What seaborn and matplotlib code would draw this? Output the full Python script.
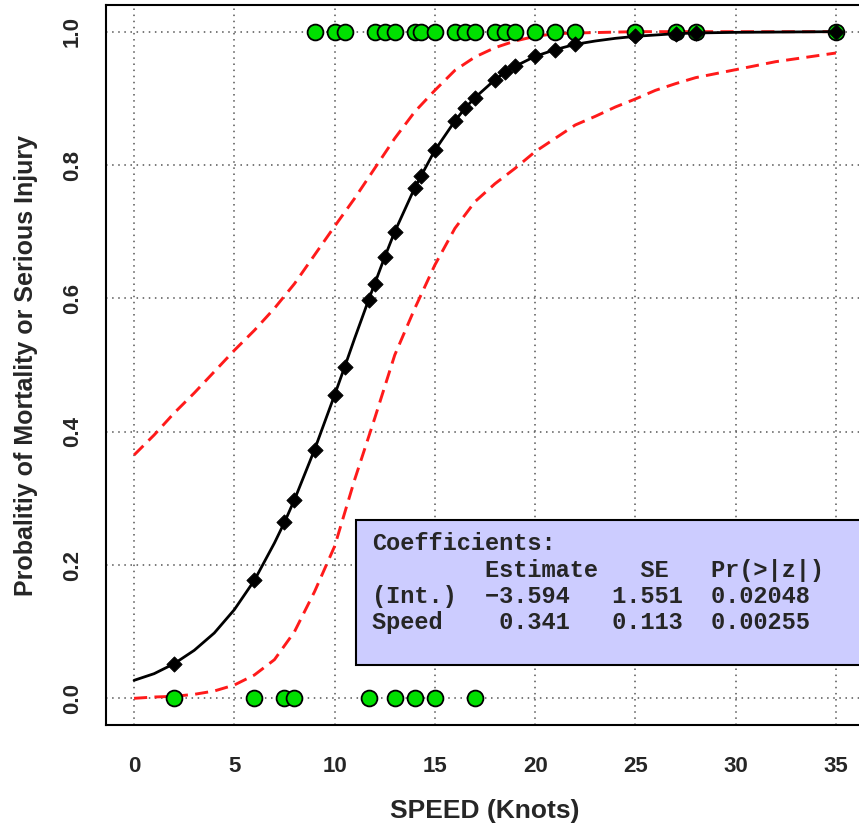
import matplotlib
matplotlib.use("Agg")
import matplotlib.pyplot as plt
import pandas as pd
import seaborn as sns
from matplotlib.patches import Rectangle

# observed strikes: speed (knots) and outcome (1 = mortality / serious injury)
speed_injury = [9, 10, 10.5, 12, 12.5, 13, 14, 14.3, 15, 16, 16.5, 17, 18,
                18.5, 19, 20, 21, 22, 25, 27, 28, 35]
speed_no_injury = [2, 6, 7.5, 8, 11.7, 13, 14, 15, 17]

# fitted logistic curve
fit_speed = [0, 1, 2, 3, 4, 5, 6, 7, 7.5, 8, 9, 10, 10.5, 11, 11.7, 12, 12.5,
             13, 14, 14.3, 15, 16, 16.5, 17, 18, 18.5, 19, 20, 21, 22, 23, 24,
             25, 26, 27, 28, 30, 35]
fit_prob = [0.027, 0.037, 0.052, 0.072, 0.098, 0.133, 0.177, 0.233, 0.264,
            0.298, 0.373, 0.455, 0.497, 0.540, 0.598, 0.622, 0.662, 0.700,
            0.766, 0.783, 0.822, 0.866, 0.885, 0.901, 0.928, 0.939, 0.948,
            0.963, 0.973, 0.981, 0.986, 0.990, 0.993, 0.995, 0.997, 0.998,
            0.999, 1.000]

# 95% confidence band
upper_speed = [0, 1, 2, 3, 4, 5, 6, 7, 8, 9, 10, 11, 12, 13, 14, 15, 16, 17,
               18, 19, 20, 21, 22, 25, 35]
upper_prob = [0.365, 0.395, 0.428, 0.458, 0.490, 0.522, 0.552, 0.585, 0.622,
              0.665, 0.708, 0.750, 0.795, 0.840, 0.880, 0.912, 0.942, 0.962,
              0.976, 0.986, 0.993, 0.997, 0.998, 1.000, 1.000]
lower_speed = [0, 1, 2, 3, 4, 5, 6, 7, 8, 9, 10, 11, 12, 13, 14, 15, 16, 17,
               18, 19, 20, 21, 22, 23, 24, 25, 26, 27, 28, 30, 32, 35]
lower_prob = [0.000, 0.002, 0.003, 0.006, 0.011, 0.020, 0.035, 0.058, 0.100,
              0.160, 0.228, 0.328, 0.420, 0.515, 0.585, 0.650, 0.705, 0.745,
              0.772, 0.795, 0.820, 0.840, 0.860, 0.873, 0.887, 0.899, 0.912,
              0.922, 0.931, 0.943, 0.955, 0.968]

coef_rows = ["(Int.)", "Speed"]
coef_est = ["-3.594", "0.341"]
coef_se = ["1.551", "0.113"]
coef_p = ["0.02048", "0.00255"]

sns.set_style("white")
plt.rcParams["font.family"] = ["Liberation Sans", "DejaVu Sans"]
plt.rcParams["font.weight"] = "bold"

obs = pd.DataFrame({
    "speed": speed_injury + speed_no_injury,
    "outcome": [1] * len(speed_injury) + [0] * len(speed_no_injury),
})
fit = pd.DataFrame({"speed": fit_speed, "prob": fit_prob})
marks = fit[fit["speed"].isin(obs["speed"])]
upper = pd.DataFrame({"speed": upper_speed, "prob": upper_prob})
lower = pd.DataFrame({"speed": lower_speed, "prob": lower_prob})

fig = plt.figure(figsize=(8.59, 8.30), dpi=100)
ax = fig.add_axes([106 / 859, 105 / 830, 758 / 859, 720 / 830])

ax.set_xlim(-1.4, 36.4)
ax.set_ylim(-0.04, 1.04)
ax.set_xticks(range(0, 36, 5))
ax.set_yticks([0, 0.2, 0.4, 0.6, 0.8, 1.0])
ax.set_yticklabels(["0.0", "0.2", "0.4", "0.6", "0.8", "1.0"])
ax.grid(True, color="#555555", linestyle=(0, (1, 3)), linewidth=1.1)
ax.set_axisbelow(True)

dash = dict(color="#ff1a1a", linewidth=2.1, dashes=(4.5, 2.5))
sns.lineplot(data=upper, x="speed", y="prob", ax=ax, sort=False,
             estimator=None, zorder=2, **dash)
sns.lineplot(data=lower, x="speed", y="prob", ax=ax, sort=False,
             estimator=None, zorder=2, **dash)

sns.scatterplot(data=obs, x="speed", y="outcome", ax=ax, s=130,
                color="#00e000", edgecolor="black", linewidth=1.3, zorder=3)

sns.lineplot(data=fit, x="speed", y="prob", ax=ax, sort=False,
             estimator=None, color="black", linewidth=2.0, zorder=4)
sns.scatterplot(data=marks, x="speed", y="prob", ax=ax, marker="D", s=60,
                color="black", edgecolor="black", zorder=5)

for side in ["top", "left", "bottom", "right"]:
    ax.spines[side].set_color("black")
    ax.spines[side].set_linewidth(1.5)

ax.tick_params(axis="both", length=8.5, width=1.2, color="black",
               labelsize=16)
ax.tick_params(axis="x", pad=14)
ax.tick_params(axis="y", pad=8)
for lab in ax.get_yticklabels():
    lab.set_rotation(90)
    lab.set_va("center")
    lab.set_fontweight("bold")
for lab in ax.get_xticklabels():
    lab.set_fontweight("bold")

ax.set_xlabel("SPEED (Knots)", fontsize=19, fontweight="bold", labelpad=16)
ax.set_ylabel("Probalitiy of Mortality or Serious Injury", fontsize=18,
              fontweight="bold", labelpad=17)

# coefficient table box
ax.add_patch(Rectangle((0.3298, 0.0833), 0.75, 0.2014,
                       transform=ax.transAxes, facecolor="#ccccff",
                       edgecolor="black", linewidth=1.5, zorder=6,
                       clip_on=False))
lines = ["Coefficients:",
         f"{'':8}{'Estimate':<11}{'SE':<5}Pr(>|z|)"]
for name, est, se, p in zip(coef_rows, coef_est, coef_se, coef_p):
    est = est.replace("-", "\u2212")
    lines.append(f"{name:<8}{est:>6}   {se:<7}{p}")
ax.text(0.351, 0.2675, "\n".join(lines), transform=ax.transAxes,
        ha="left", va="top", fontsize=17, fontweight="bold",
        family=["Liberation Mono", "DejaVu Sans Mono"], linespacing=1.18,
        zorder=7)

fig.savefig("out.png", dpi=100)
